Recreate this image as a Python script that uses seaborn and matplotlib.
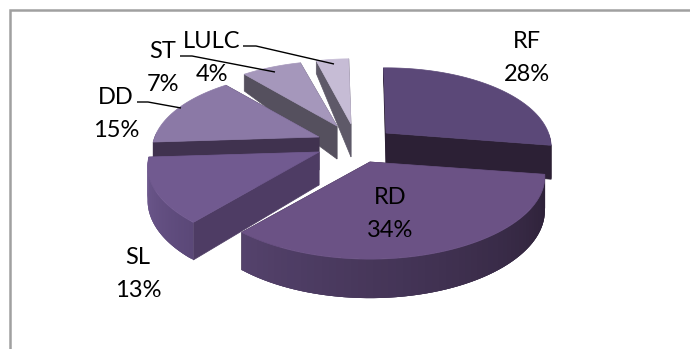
import numpy as np
import matplotlib
matplotlib.use("Agg")
import matplotlib.pyplot as plt
import matplotlib.colors as mc
from matplotlib.patches import Polygon
import seaborn as sns

# Slice data, clockwise from twelve o'clock
categories = ["RF", "RD", "SL", "DD", "ST", "LULC"]
shares = [28, 34, 13, 15, 7, 4]

# Exploded position of each slice's tip on the canvas, and its horizontal reach
tip_x = [386, 370, 319, 319, 337, 351]
tip_y = [133, 162, 152, 137, 126, 124]
reach = [0.945, 1.0, 0.98, 0.955, 0.95, 0.9]

# Label anchors and leader lines
label_x = [527, 390, 138, 116, 163, 212]
label_y = [58, 214, 274, 114, 68, 58]
leaders = {"DD": [(137, 102), (148, 102), (181, 108)],
           "ST": [(180, 56), (192, 56), (275, 72)],
           "LULC": [(243, 46), (256, 46), (334, 64)]}

# Colours: top face, radial wall, rim at the start and end of the sweep
top_col = ["#5b4878", "#6b5285", "#715a90", "#8b79a6", "#a597bb", "#c6bcd5"]
wall_col = ["#2c2035", "#33263f", "#4e3c64", "#40324f", "#55505e", "#5e5968"]
rim_start = ["#2c2035", "#2c2036", "#5b4878", "#40324f", "#55505e", "#5e5968"]
rim_end = ["#2c2035", "#54426c", "#6f5a90", "#40324f", "#55505e", "#5e5968"]

START_ANGLE = -1.0
RX, RY = 172.0, 78.0
KX, KY = 0.18, 0.197

sns.set_theme(style="white")
plt.rcParams["font.family"] = ["Lato", "DejaVu Sans"]

fig = plt.figure(figsize=(6.9, 3.49), dpi=100, facecolor="white")
ax = fig.add_axes([0, 0, 1, 1])
ax.set_xlim(0, 690)
ax.set_ylim(349, 0)
ax.axis("off")


def project(theta, tx, ty, wide):
    """Map a rim point of the tilted disc (clockwise degrees) to the canvas."""
    u = np.sin(np.radians(theta))
    v = np.cos(np.radians(theta))
    return tx + wide * RX * u / (1 + KX * v), ty - RY * v / (1 + KY * v), v


def depth(v):
    # The wall looks thinner toward the back of the tilted pie
    return np.interp(v, [-1, 0, 0.8, 1], [39, 33, 16, 12])


def fill(pts, color, z, lw=0.5):
    ax.add_patch(Polygon(pts, closed=True, facecolor=color, edgecolor=color,
                         linewidth=lw, zorder=z))


def draw_slice(i, a0, a1, z):
    tx, ty = tip_x[i], tip_y[i]
    thetas = np.linspace(a0, a1, 60)
    x, y, v = project(thetas, tx, ty, reach[i])
    d = depth(v)
    d0 = depth(0)
    # radial walls
    for k in (0, -1):
        fill([(tx, ty), (x[k], y[k]), (x[k], y[k] + d[k]), (tx, ty + d0)], wall_col[i], z)
    # outer rim: overlapping bands shaded along the sweep
    c0, c1 = np.array(mc.to_rgb(rim_start[i])), np.array(mc.to_rgb(rim_end[i]))
    n = len(thetas)
    for k in range(n - 1):
        if v[k] < 0.02:
            t = k / (n - 2)
            j = min(k + 3, n - 1)
            band = list(zip(x[k:j + 1], y[k:j + 1]))
            band += list(zip(x[k:j + 1], (y + d)[k:j + 1]))[::-1]
            fill(band, tuple(c0 + (c1 - c0) * t), z, lw=0)
    # top face
    fill([(tx, ty)] + list(zip(x, y)), top_col[i], z + 0.5)


sweeps = np.array(shares) / np.sum(shares) * 360
edges = START_ANGLE + np.concatenate([[0], np.cumsum(sweeps)])

# Painter's order: rear slices first
for z, i in enumerate([5, 4, 3, 2, 0, 1]):
    draw_slice(i, edges[i], edges[i + 1], z + 2)

for name, pts in leaders.items():
    xs, ys = zip(*pts)
    ax.plot(xs, ys, color="black", lw=1.0, zorder=20, solid_capstyle="butt")

for name, share, x, y in zip(categories, shares, label_x, label_y):
    ax.text(x, y, f"{name}\n{share}%", ha="center", va="center", fontsize=17,
            linespacing=1.7, color="black", zorder=21)

# Chart frame running off the canvas on the right and bottom
ax.plot([10, 10, 700], [360, 10, 10], color="#a0a0a0", lw=1.8, zorder=1,
        solid_joinstyle="miter")

fig.savefig("out.png", dpi=100, facecolor="white")
